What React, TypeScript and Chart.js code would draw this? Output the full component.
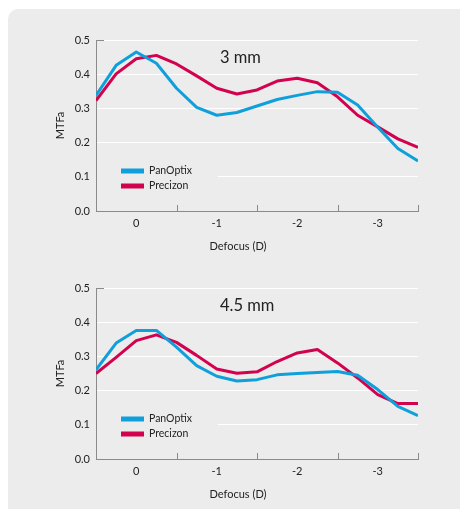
import React, { useEffect, useRef } from 'react';
import { Chart, registerables } from 'chart.js';

Chart.register(...registerables);

if (typeof document !== 'undefined') {
  document.body.style.margin = '0';
}

// ---- data ----
const defocus = [0.5, 0.25, 0, -0.25, -0.5, -0.75, -1, -1.25, -1.5, -1.75, -2, -2.25, -2.5, -2.75, -3, -3.25, -3.5];

const panOptix3mm = [0.338, 0.426, 0.465, 0.432, 0.359, 0.303, 0.28, 0.288, 0.307, 0.326, 0.338, 0.349, 0.347, 0.31, 0.245, 0.183, 0.146];
const precizon3mm = [0.323, 0.401, 0.445, 0.455, 0.43, 0.395, 0.359, 0.342, 0.354, 0.38, 0.388, 0.375, 0.334, 0.28, 0.246, 0.211, 0.186];

const panOptix45mm = [0.261, 0.339, 0.376, 0.376, 0.327, 0.273, 0.242, 0.228, 0.232, 0.246, 0.25, 0.253, 0.256, 0.245, 0.203, 0.154, 0.127];
const precizon45mm = [0.25, 0.297, 0.346, 0.363, 0.341, 0.303, 0.263, 0.251, 0.255, 0.285, 0.31, 0.32, 0.281, 0.237, 0.188, 0.162, 0.162];

const xTickLabels = [0, -1, -2, -3];
const xTickMarks = [-0.5, -1.5, -2.5, -3.5];
const seriesNames = ['PanOptix', 'Precizon'];
const pupilTitles = ['3 mm', '4.5 mm'];
const xAxisTitle = 'Defocus (D)';
const yAxisTitle = 'MTFa';

// ---- style ----
const FONT = 'Lato, "Open Sans", sans-serif';
const PANEL = '#ebeceb';
const AXIS = '#8a8a8a';
const TEXT = '#222222';
const BLUE = '#0fa0dc';
const RED = '#d2024f';

const decorPlugin = {
  id: 'decor',
  beforeDatasetsDraw(chart: any, _args: any, opts: any) {
    const { ctx, chartArea: a, scales } = chart;
    const xs = scales.x;
    ctx.save();
    // legend background
    ctx.fillStyle = PANEL;
    ctx.fillRect(a.left + 1, a.top + 121, 121, 37);
    // top stub on y axis
    ctx.strokeStyle = AXIS;
    ctx.lineWidth = 1;
    ctx.beginPath();
    ctx.moveTo(a.left, a.top + 0.5);
    ctx.lineTo(a.left + 8, a.top + 0.5);
    // x tick marks pointing up
    xTickMarks.forEach((v) => {
      const px = Math.round(xs.getPixelForValue(v)) + 0.5;
      ctx.moveTo(px, a.bottom);
      ctx.lineTo(px, a.bottom - 6);
    });
    ctx.stroke();
    // legend
    chart.data.datasets.forEach((ds: any, i: number) => {
      const ly = a.top + 131 + i * 15;
      ctx.strokeStyle = ds.borderColor;
      ctx.lineWidth = 5;
      ctx.beginPath();
      ctx.moveTo(a.left + 25, ly);
      ctx.lineTo(a.left + 48, ly);
      ctx.stroke();
      ctx.fillStyle = TEXT;
      ctx.font = `10.5px ${FONT}`;
      ctx.textAlign = 'left';
      ctx.textBaseline = 'middle';
      ctx.fillText(ds.label, a.left + 53, ly);
    });
    // panel title
    ctx.fillStyle = TEXT;
    ctx.font = `16.5px ${FONT}`;
    ctx.textAlign = 'left';
    ctx.textBaseline = 'middle';
    ctx.fillText(opts.text, a.left + 124, a.top + 18);
    // x axis title
    ctx.font = `11px ${FONT}`;
    ctx.textAlign = 'center';
    ctx.fillText(xAxisTitle, a.left + 142, a.bottom + 35);
    ctx.restore();
  },
};

function MtfChart({ top, title, blue, red }: { top: number; title: string; blue: number[]; red: number[] }) {
  const ref = useRef<HTMLCanvasElement | null>(null);
  useEffect(() => {
    if (!ref.current) return;
    const chart = new Chart(ref.current, {
      type: 'line',
      data: {
        datasets: [
          {
            label: seriesNames[0],
            data: defocus.map((x, i) => ({ x, y: blue[i] })),
            borderColor: BLUE,
            backgroundColor: BLUE,
            borderWidth: 3,
            pointRadius: 0,
            tension: 0,
            borderJoinStyle: 'round',
          },
          {
            label: seriesNames[1],
            data: defocus.map((x, i) => ({ x, y: red[i] })),
            borderColor: RED,
            backgroundColor: RED,
            borderWidth: 3,
            pointRadius: 0,
            tension: 0,
            borderJoinStyle: 'round',
          },
        ],
      },
      options: {
        responsive: false,
        animation: false,
        events: [],
        layout: { padding: { top: 40, right: 42, left: 0, bottom: 0 } },
        plugins: {
          legend: { display: false },
          tooltip: { enabled: false },
          decor: { text: title },
        } as any,
        scales: {
          x: {
            type: 'linear',
            reverse: true,
            min: -3.5,
            max: 0.5,
            afterBuildTicks: (s: any) => {
              s.ticks = xTickLabels.map((value) => ({ value }));
            },
            afterFit: (s: any) => {
              s.height = 44;
            },
            grid: { display: false },
            border: { display: true, color: AXIS, width: 1 },
            ticks: {
              autoSkip: false,
              maxRotation: 0,
              padding: -2,
              color: TEXT,
              font: { family: FONT, size: 11 },
              callback: (v: any) => String(v),
            },
            title: { display: false },
          },
          y: {
            type: 'linear',
            min: 0,
            max: 0.5,
            afterFit: (s: any) => {
              s.width = 96;
            },
            grid: {
              drawTicks: false,
              lineWidth: 1,
              color: (c: any) => (c.tick && c.tick.value === 0 ? 'rgba(0,0,0,0)' : '#ffffff'),
            },
            border: { display: true, color: AXIS, width: 1 },
            ticks: {
              stepSize: 0.1,
              padding: 6,
              color: TEXT,
              font: { family: FONT, size: 11 },
              callback: (v: any) => Number(v).toFixed(1),
            },
            title: {
              display: true,
              text: yAxisTitle,
              color: TEXT,
              font: { family: FONT, size: 11 },
              padding: { top: 53.4, bottom: 0 },
            },
          },
        },
      } as any,
      plugins: [decorPlugin],
    });
    return () => chart.destroy();
  }, [title, blue, red]);
  return (
    <canvas
      ref={ref}
      width={460}
      height={255}
      style={{ position: 'absolute', left: 0, top, width: 460, height: 255 }}
    />
  );
}

export default function App() {
  return (
    <div style={{ position: 'relative', width: 460, height: 511, overflow: 'hidden', background: '#ffffff' }}>
      <div
        style={{
          position: 'absolute',
          left: 8,
          top: 9,
          right: 0,
          bottom: 2,
          background: PANEL,
          borderTopLeftRadius: 10,
        }}
      />
      <MtfChart top={0} title={pupilTitles[0]} blue={panOptix3mm} red={precizon3mm} />
      <MtfChart top={248} title={pupilTitles[1]} blue={panOptix45mm} red={precizon45mm} />
    </div>
  );
}
